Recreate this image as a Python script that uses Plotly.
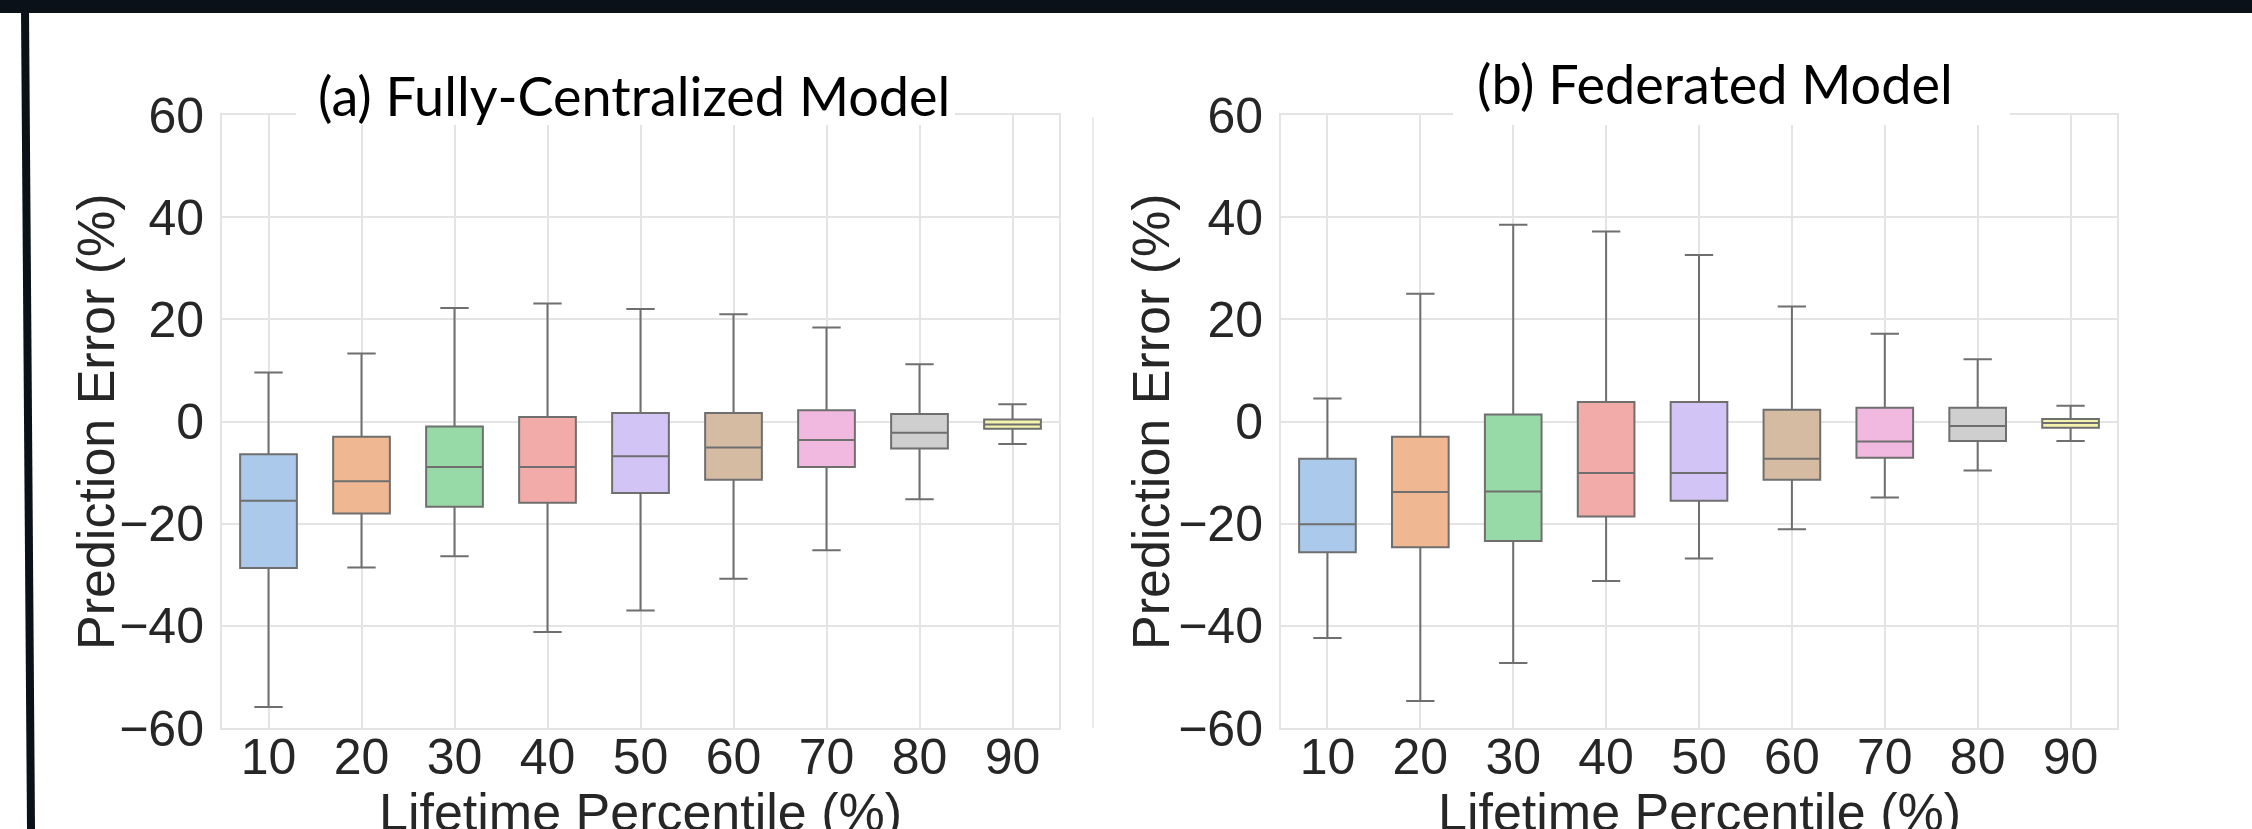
import colorsys
import plotly.graph_objects as go

W, H = 2252, 829

categories = ["10", "20", "30", "40", "50", "60", "70", "80", "90"]

# (a) Fully-Centralized Model
a_upper = [9.6, 13.3, 22.2, 23.1, 22.0, 21.0, 18.4, 11.2, 3.4]
a_q3 = [-6.4, -3.0, -1.0, 0.9, 1.65, 1.65, 2.2, 1.45, 0.4]
a_median = [-15.5, -11.7, -8.9, -8.9, -6.8, -5.1, -3.6, -2.2, -0.6]
a_q1 = [-28.7, -18.0, -16.7, -15.9, -14.0, -11.4, -8.9, -5.3, -1.4]
a_lower = [-55.9, -28.6, -26.4, -41.2, -37.0, -30.8, -25.2, -15.2, -4.4]

# (b) Federated Model
b_upper = [4.5, 25.0, 38.5, 37.2, 32.6, 22.5, 17.2, 12.2, 3.1]
b_q3 = [-7.3, -3.0, 1.35, 3.8, 3.8, 2.3, 2.7, 2.7, 0.5]
b_median = [-20.1, -13.8, -13.7, -10.1, -10.1, -7.3, -3.9, -0.9, -0.3]
b_q1 = [-25.6, -24.6, -23.4, -18.6, -15.5, -11.4, -7.1, -3.8, -1.2]
b_lower = [-42.4, -54.7, -47.3, -31.2, -26.8, -21.1, -14.9, -9.6, -3.8]

titles = ["(a) Fully-Centralized Model", "(b) Federated Model"]
x_title = "Lifetime Percentile (%)"
y_title = "Prediction Error (%)"
y_ticks = [-60, -40, -20, 0, 20, 40, 60]

pastel = ["#a1c9f4", "#ffb482", "#8de5a1", "#ff9f9b", "#d0bbff",
          "#debb9b", "#fab0e4", "#cfcfcf", "#fffea3"]


def desat(hexc, prop=0.75):
    r, g, b = (int(hexc[i:i + 2], 16) / 255 for i in (1, 3, 5))
    h, l, s = colorsys.rgb_to_hls(r, g, b)
    r, g, b = colorsys.hls_to_rgb(h, l, s * prop)
    return "#%02x%02x%02x" % (round(r * 255), round(g * 255), round(b * 255))


fills = [desat(c) for c in pastel]
edge = "#6f6f6f"

fig = go.Figure()

panels = [
    ("x", "y", a_lower, a_q1, a_median, a_q3, a_upper),
    ("x2", "y2", b_lower, b_q1, b_median, b_q3, b_upper),
]
for xa, ya, lo, q1, med, q3, up in panels:
    for i, cat in enumerate(categories):
        fig.add_trace(go.Box(
            x=[cat], lowerfence=[lo[i]], q1=[q1[i]], median=[med[i]],
            q3=[q3[i]], upperfence=[up[i]],
            fillcolor=fills[i], line=dict(color=edge, width=2),
            width=0.61, whiskerwidth=0.5, boxpoints=False,
            showlegend=False, xaxis=xa, yaxis=ya,
        ))


def px(v):
    return v / W


def py(v):
    return 1 - v / H


tick_font = dict(family="Liberation Sans, Arial, sans-serif", size=50, color="#262626")
grid = "#e4e4e4"
axis_common = dict(showgrid=True, gridcolor=grid, gridwidth=2, showline=True,
                   linecolor=grid, linewidth=2, mirror=True, zeroline=False,
                   ticks="", tickfont=tick_font, automargin=False)

fig.update_layout(
    template="none",
    width=W, height=H, margin=dict(l=0, r=0, t=0, b=0, autoexpand=False),
    paper_bgcolor="white", plot_bgcolor="white", boxmode="overlay",
    xaxis=dict(domain=[px(222), px(1059)], range=[-0.5, 8.5], type="category",
               categoryorder="array", categoryarray=categories,
               ticklabelstandoff=-16, **axis_common),
    yaxis=dict(domain=[py(728), py(115)], range=[-60, 60], tickvals=y_ticks,
               ticklabelstandoff=6, anchor="x", **axis_common),
    xaxis2=dict(domain=[px(1281), px(2117)], range=[-0.5, 8.5], type="category",
                categoryorder="array", categoryarray=categories, anchor="y2",
                ticklabelstandoff=-16, **axis_common),
    yaxis2=dict(domain=[py(728), py(115)], range=[-60, 60], tickvals=y_ticks,
                ticklabelstandoff=6, anchor="x2", **axis_common),
)

shapes = [
    # top dark bar
    dict(type="rect", xref="paper", yref="paper", x0=0, x1=1, y0=py(13), y1=1,
         fillcolor="#0b1118", line=dict(width=0), layer="above"),
    # left dark bar (slightly slanted)
    dict(type="path", xref="paper", yref="paper",
         path=f"M {px(21)},{py(10)} L {px(29)},{py(10)} L {px(35)},{py(829)} L {px(27)},{py(829)} Z",
         fillcolor="#0b1118", line=dict(width=0), layer="above"),
    # white boxes behind titles
    dict(type="rect", xref="paper", yref="paper", x0=px(296), x1=px(955),
         y0=py(125), y1=py(55), fillcolor="white", line=dict(width=0), layer="above"),
    dict(type="rect", xref="paper", yref="paper", x0=px(1453), x1=px(2010),
         y0=py(125), y1=py(50), fillcolor="white", line=dict(width=0), layer="above"),
    # faint leftover frame line between panels
    dict(type="line", xref="paper", yref="paper", x0=px(1093), x1=px(1093),
         y0=py(117), y1=py(728), line=dict(color="#ececec", width=2)),
]
fig.update_layout(shapes=shapes)

title_font = dict(family="Lato, Carlito, sans-serif", size=54, color="black")
label_font = dict(family="Liberation Sans, Arial, sans-serif", size=52, color="#262626")
annotations = [
    dict(text=titles[0], x=px(634), y=py(95), xref="paper", yref="paper",
         xanchor="center", yanchor="middle", showarrow=False, font=title_font),
    dict(text=titles[1], x=px(1715), y=py(83), xref="paper", yref="paper",
         xanchor="center", yanchor="middle", showarrow=False, font=title_font),
    dict(text=x_title, x=px(640.5), y=py(812), xref="paper", yref="paper",
         xanchor="center", yanchor="middle", showarrow=False, font=label_font),
    dict(text=x_title, x=px(1699), y=py(812), xref="paper", yref="paper",
         xanchor="center", yanchor="middle", showarrow=False, font=label_font),
    dict(text=y_title, x=px(96), y=py(422), xref="paper", yref="paper",
         xanchor="center", yanchor="middle", textangle=-90, showarrow=False, font=label_font),
    dict(text=y_title, x=px(1151), y=py(422), xref="paper", yref="paper",
         xanchor="center", yanchor="middle", textangle=-90, showarrow=False, font=label_font),
]
fig.update_layout(annotations=annotations)

fig.write_html("out.html")
